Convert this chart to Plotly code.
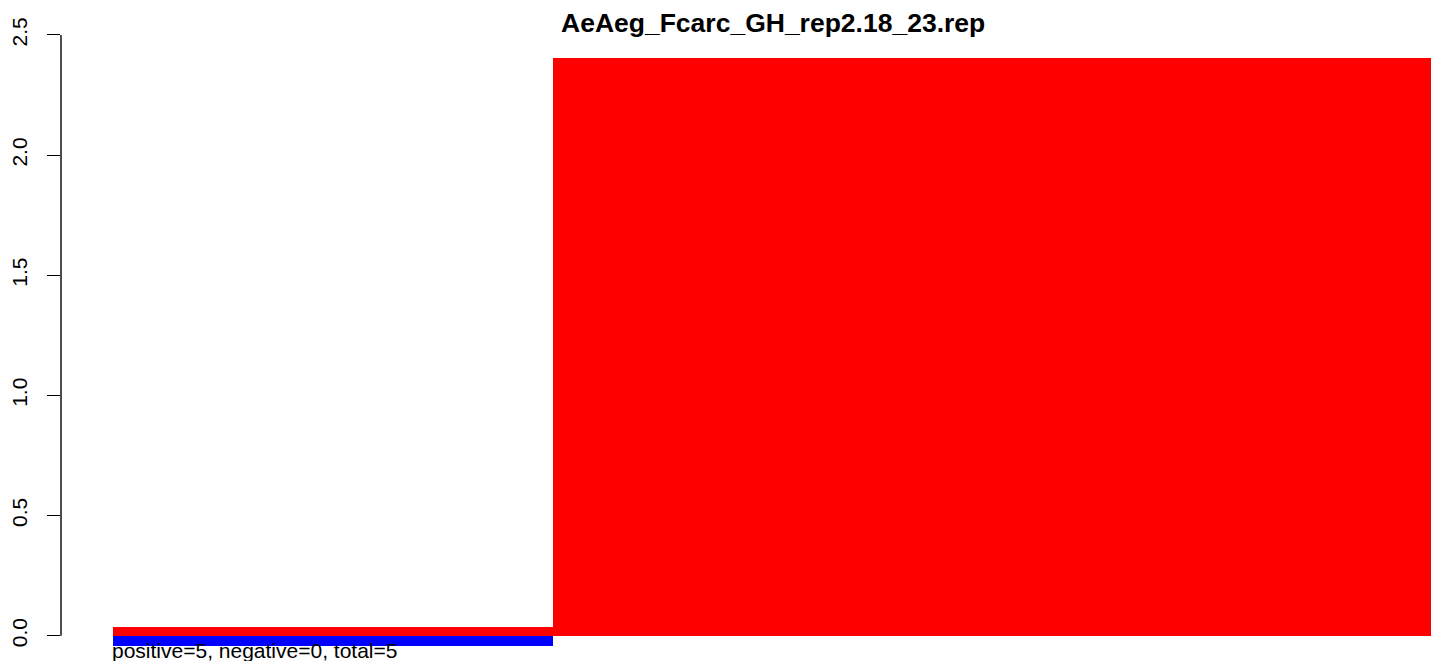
import plotly.graph_objects as go

# Data
segment_left = [0, 1]
segment_right = [1, 3]
pos_values = [0.035, 2.404]
neg_values = [-0.0416, 0.0]
title_text = "AeAeg_Fcarc_GH_rep2.18_23.rep"
summary_text = "positive=5, negative=0, total=5"
y_ticks = [0.0, 0.5, 1.0, 1.5, 2.0, 2.5]
y_ticklabels = ["0.0", "0.5", "1.0", "1.5", "2.0", "2.5"]

centers = [(a + b) / 2 for a, b in zip(segment_left, segment_right)]
widths = [b - a for a, b in zip(segment_left, segment_right)]

fig = go.Figure()
fig.add_trace(go.Bar(x=centers, y=pos_values, width=widths, base=0,
                     marker=dict(color="#FF0000", line=dict(width=0)),
                     showlegend=False, hoverinfo="skip"))
fig.add_trace(go.Bar(x=centers, y=neg_values, width=widths, base=0,
                     marker=dict(color="#0000FF", line=dict(width=0)),
                     showlegend=False, hoverinfo="skip"))

# page has an 8px body margin: the figure starts at page (8, 8)
OFF = 8
PW, PH = 1439, 661
W, H = PW - OFF, PH - OFF
# targets in page pixels
axis_px = 50.5
ml, mr, mt, mb = axis_px - OFF, 0, 12, 2
px0, pxu = 103.0 - OFF, 443.0   # x=0 figure pixel, px per unit
py0, pyu = 635.7 - OFF, 240.3   # y=0 figure pixel, px per unit
x_range = [(ml - px0) / pxu, (W - mr - px0) / pxu]
y_range = [(py0 - (H - mb)) / pyu, (py0 - mt) / pyu]
plot_h = H - mt - mb

def fig_y_paper(page_y):
    return ((H - mb) - (page_y - OFF)) / plot_h

fig.update_layout(
    width=W, height=H,
    margin=dict(l=ml, r=mr, t=mt, b=mb),
    plot_bgcolor="white", paper_bgcolor="white",
    barmode="overlay", bargap=0,
    font=dict(family="Liberation Sans, Arial, sans-serif", color="black"),
    xaxis=dict(range=x_range, showgrid=False, zeroline=False, showline=False,
               showticklabels=False, ticks="", fixedrange=True),
    yaxis=dict(range=y_range, showgrid=False, zeroline=False, showline=False,
               tickmode="array", tickvals=y_ticks, ticktext=y_ticklabels,
               ticks="outside", ticklen=13, tickwidth=1.4, tickcolor="black",
               tickangle=-90, tickfont=dict(size=21, color="black"),
               ticklabelstandoff=12, fixedrange=True),
    shapes=[dict(type="line", xref="paper", yref="y", x0=0, x1=0,
                 y0=y_ticks[0], y1=y_ticks[-1],
                 line=dict(color="black", width=1.4))],
    annotations=[
        dict(text="<b>" + title_text + "</b>", xref="paper", yref="paper",
             x=(767.5 - OFF - ml) / (W - ml - mr), y=fig_y_paper(23),
             xanchor="center", yanchor="middle", showarrow=False,
             font=dict(size=26.5, color="black")),
        dict(text=summary_text, xref="x", yref="paper",
             x=segment_left[0], y=fig_y_paper(650),
             xanchor="left", yanchor="middle", showarrow=False, xshift=-3,
             font=dict(size=21, color="black")),
    ],
)

fig.write_html("out.html")
